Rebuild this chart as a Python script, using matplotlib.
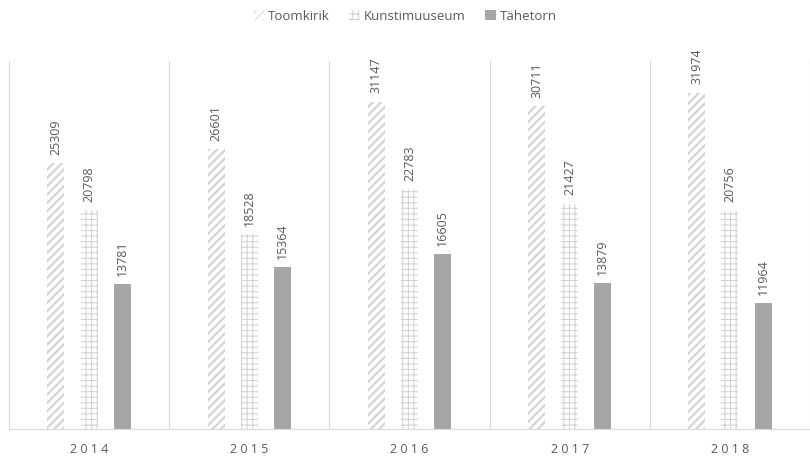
import matplotlib.pyplot as plt
import numpy as np

# data
years = ["2014", "2015", "2016", "2017", "2018"]
toomkirik = [25309, 26601, 31147, 30711, 31974]
kunstimuuseum = [20798, 18528, 22783, 21427, 20756]
tahetorn = [13781, 15364, 16605, 13879, 11964]

plt.rcParams['font.family'] = ['Open Sans', 'DejaVu Sans']
plt.rcParams['hatch.linewidth'] = 1.6

fig = plt.figure(figsize=(8.1, 4.59), dpi=100)
ax = fig.add_axes([9 / 810, 1 - 429 / 459, 801 / 810, (429 - 61) / 459])

x = np.arange(len(years))
w = 0.106
off = 0.207

b1 = ax.bar(x - off, toomkirik, w, color="white", edgecolor="#d4d4d4",
            hatch="////", linewidth=0, label="Toomkirik")
plt.rcParams['hatch.linewidth'] = 0.7
b2 = ax.bar(x, kunstimuuseum, w, color="white", edgecolor="#d0d0d0",
            hatch="+++", linewidth=0, label="Kunstimuuseum")
b3 = ax.bar(x + off, tahetorn, w, color="#a6a6a6", linewidth=0, label="Tähetorn")

for bars, vals in [(b1, toomkirik), (b2, kunstimuuseum), (b3, tahetorn)]:
    for r, v in zip(bars, vals):
        ax.annotate(str(v), (r.get_x() + r.get_width() / 2, v), xytext=(0, 6),
                    textcoords="offset points", rotation=90, ha="center",
                    va="bottom", fontsize=9, color="#595959")

ax.set_xlim(-0.5, len(years) - 0.5)
ax.set_ylim(0, 35000)
ax.set_yticks([])
ax.set_xticks(x)
ax.set_xticklabels([" ".join(y) for y in years], fontsize=9, color="#595959")
ax.tick_params(axis="x", length=0, pad=10)
for xv in np.arange(-0.5, len(years), 1.0):
    ax.axvline(xv, color="#d9d9d9", linewidth=0.8)
for s in ["top", "right", "left"]:
    ax.spines[s].set_visible(False)
ax.spines["bottom"].set_color("#d9d9d9")

fig.legend(handles=[b1, b2, b3], loc="upper center", bbox_to_anchor=(0.5, 1.005),
           ncol=3, frameon=False, fontsize=9.5, handlelength=0.8, handleheight=0.8,
           handletextpad=0.3, columnspacing=1.5, labelcolor="#595959")

fig.savefig("out.png", dpi=100)
